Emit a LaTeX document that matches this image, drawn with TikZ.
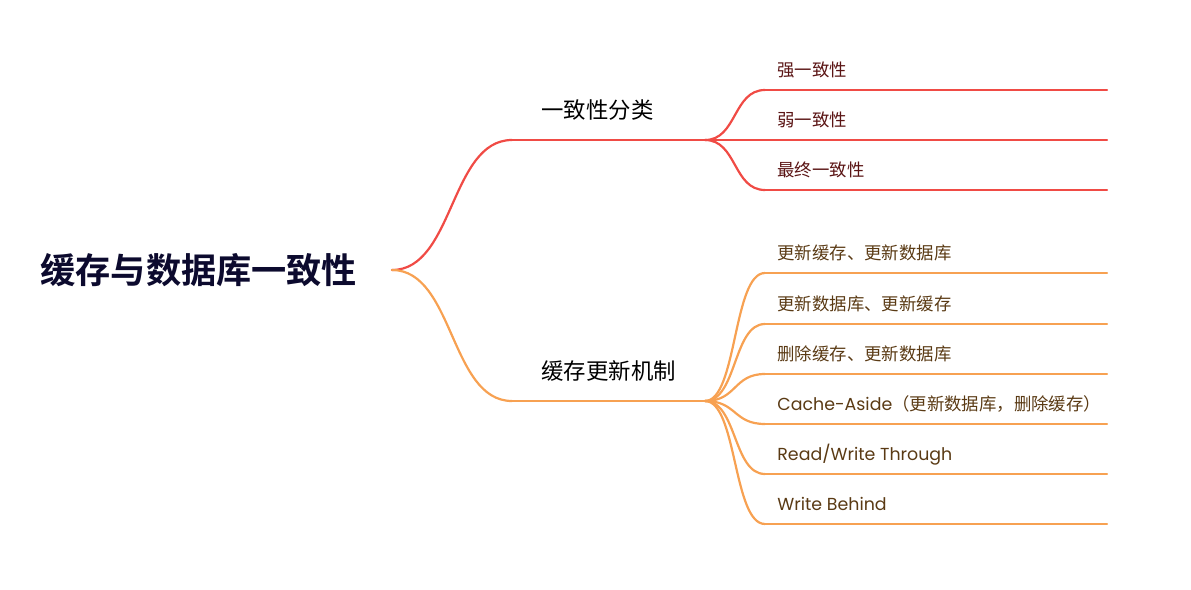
\documentclass[tikz,border=0pt]{standalone}
\usepackage{fontspec}
\setmainfont{Poppins}
\newfontfamily\cjk{Noto Sans CJK SC}[BoldFont=Noto Sans CJK SC Bold]
\newfontfamily\lat{Poppins}
\usetikzlibrary{positioning}
\definecolor{redline}{HTML}{F04B45}
\definecolor{orgline}{HTML}{F7A152}
\definecolor{redtext}{HTML}{5A1414}
\definecolor{orgtext}{HTML}{5A3A14}
\definecolor{roottext}{HTML}{0C0A2E}
\tikzset{
  branch/.style={line width=1.1pt, line cap=round},
  leaftext/.style={anchor=base west, inner sep=0pt, font=\cjk\fontsize{8.7pt}{10pt}\selectfont},
  midtext/.style={anchor=base west, inner sep=0pt, font=\cjk\fontsize{11.2pt}{13pt}\selectfont},
}
% s-shaped connector: colour, from, to, half width
\newcommand{\sbranch}[4]{\draw[branch,#1] (#2) .. controls +(#4,0) and +(-#4,0) .. (#3);}
\begin{document}
\begin{tikzpicture}[x=0.5pt,y=-0.5pt]
\useasboundingbox (0,0) rectangle (1191,590);
% root
\node[anchor=base west, inner sep=0pt, text=roottext, font=\cjk\bfseries\fontsize{17.6pt}{20pt}\selectfont] (root) at (40,283) {缓存与数据库一致性};
\coordinate (r) at (392,270);
% first branch
\coordinate (cls-s) at (512,140);
\coordinate (cls-e) at (705,140);
\node[midtext, text=black] (cls) at (541,118) {一致性分类};
\sbranch{redline}{r}{cls-s}{62}
\draw[branch,redline] (cls-s) -- (cls-e);
\foreach \i/\y/\t in {1/90/强一致性, 2/140/弱一致性, 3/190/最终一致性}{
  \coordinate (c\i-s) at (765,\y);
  \coordinate (c\i-e) at (1107,\y);
  \node[leaftext, text=redtext] (c\i) at (777,\y-14) {\t};
  \sbranch{redline}{cls-e}{c\i-s}{32}
  \draw[branch,redline] (c\i-s) -- (c\i-e);
}
% second branch
\coordinate (upd-s) at (512,401);
\coordinate (upd-e) at (705,401);
\node[midtext, text=black] (upd) at (541,379) {缓存更新机制};
\sbranch{orgline}{r}{upd-s}{62}
\draw[branch,orgline] (upd-s) -- (upd-e);
\foreach \i/\y/\t in {1/273/{更新缓存、更新数据库}, 2/324/{更新数据库、更新缓存}, 3/374/{删除缓存、更新数据库},
  4/424/{{\lat Cache-Aside}（更新数据库，删除缓存）}, 5/474/{{\lat Read/Write Through}}, 6/524/{{\lat Write Behind}}}{
  \coordinate (u\i-s) at (765,\y);
  \coordinate (u\i-e) at (1107,\y);
  \node[leaftext, text=orgtext] (u\i) at (777,\y-14) {\t};
  \sbranch{orgline}{upd-e}{u\i-s}{32}
  \draw[branch,orgline] (u\i-s) -- (u\i-e);
}
\end{tikzpicture}
\end{document}
